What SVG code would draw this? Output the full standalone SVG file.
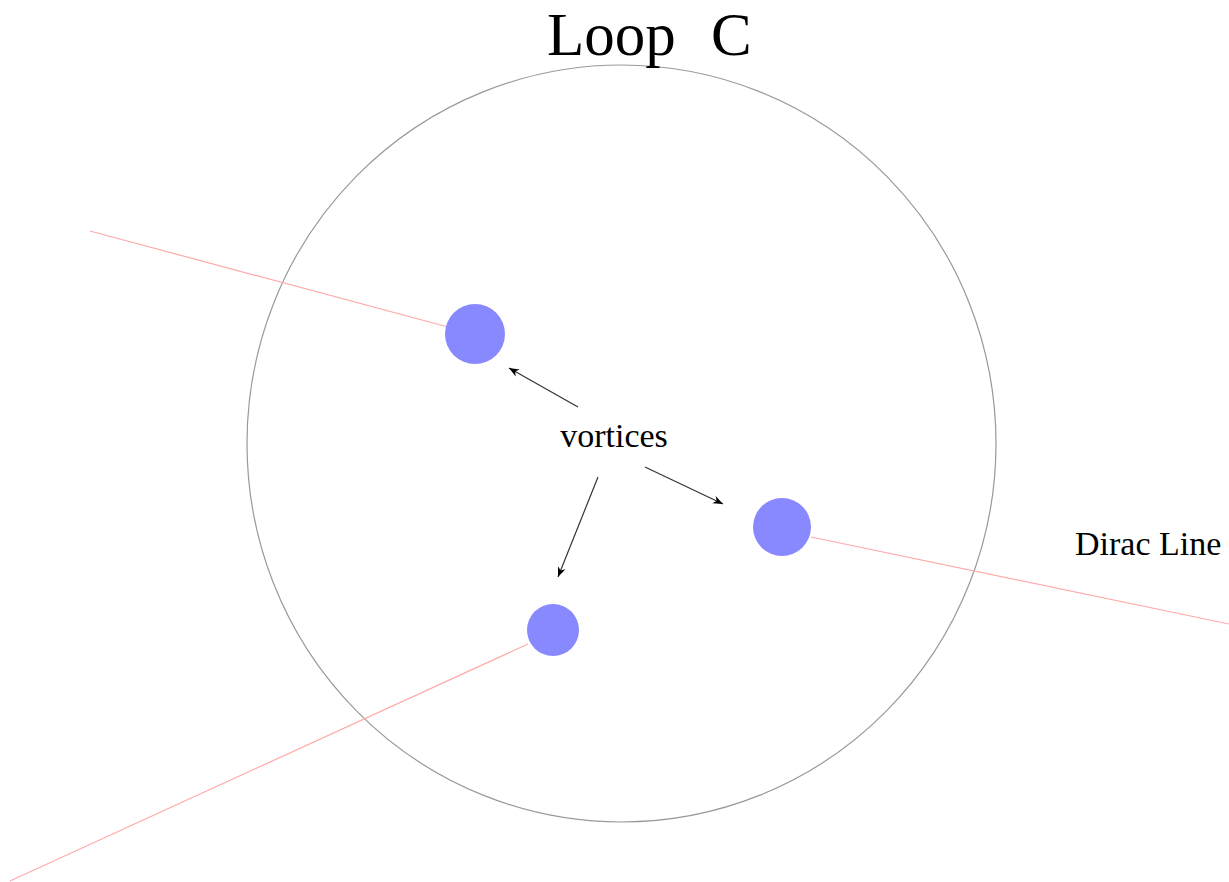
<svg xmlns="http://www.w3.org/2000/svg" width="1229" height="882" viewBox="0 0 1229 882">
<style>
.t{font-family:"Liberation Serif","Times New Roman",serif;fill:#000}
.dirac{stroke:#ffaaaa;stroke-width:1.2;fill:none}
.arr{stroke:#333;stroke-width:1.2;fill:none;marker-end:url(#ah)}
.v{fill:#8888ff}
</style>
<defs>
<marker id="ah" viewBox="0 0 10 10" refX="10" refY="5" markerWidth="16" markerHeight="10" markerUnits="userSpaceOnUse" orient="auto">
<path d="M0,1 L10,5 L0,9 L3,5 Z" fill="#000"/>
</marker>
</defs>
<rect width="1229" height="882" fill="#fff"/>
<g id="loop">
<ellipse cx="621.5" cy="443.5" rx="374.5" ry="378.5" fill="none" stroke="#999" stroke-width="1.2"/>
<text class="t" x="547" y="55" font-size="61">Loop<tspan x="711">C</tspan></text>
</g>
<g id="dirac-lines">
<line class="dirac" x1="90" y1="231" x2="448" y2="327"/>
<line class="dirac" x1="811" y1="537" x2="1229" y2="624"/>
<line class="dirac" x1="528" y1="644" x2="10" y2="881"/>
</g>
<g id="vortex1"><circle class="v" cx="475" cy="334" r="30"/></g>
<g id="vortex2"><circle class="v" cx="782" cy="527" r="29"/></g>
<g id="vortex3"><circle class="v" cx="553" cy="630" r="26"/></g>
<g id="label-vortices"><text class="t" x="614" y="447" font-size="34" text-anchor="middle">vortices</text></g>
<g id="label-dirac"><text class="t" x="1075" y="555" font-size="34">Dirac Line</text></g>
<g id="connectors">
<line class="arr" x1="578" y1="407" x2="509" y2="368"/>
<line class="arr" x1="645" y1="467" x2="723" y2="504"/>
<line class="arr" x1="598" y1="477" x2="558" y2="577"/>
</g>
</svg>
